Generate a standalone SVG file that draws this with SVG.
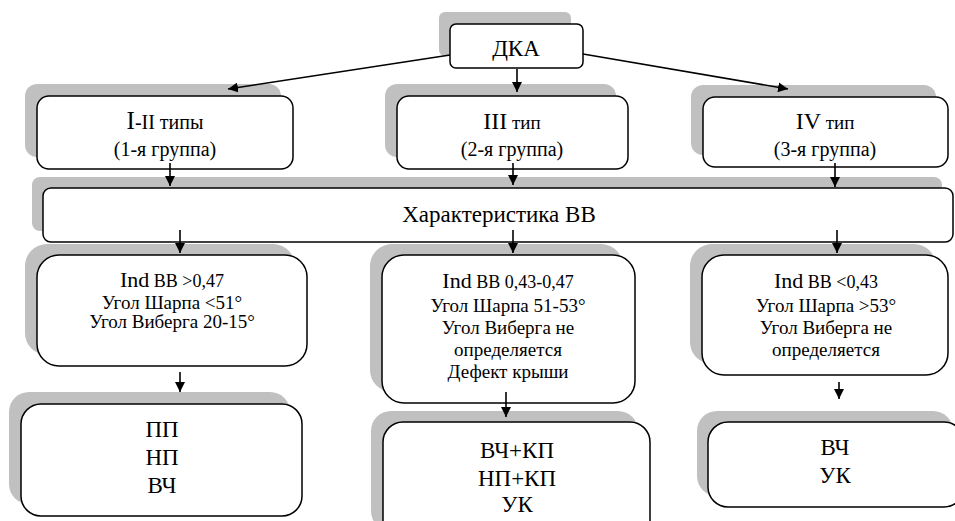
<svg xmlns="http://www.w3.org/2000/svg" width="955" height="521" viewBox="0 0 955 521">
<defs>
<marker id="ah" viewBox="0 0 10 10" refX="10" refY="5" markerWidth="10" markerHeight="10" markerUnits="userSpaceOnUse" orient="auto">
<path d="M0,0 L10,5 L0,10 z" fill="#000"/>
</marker>
</defs>
<style>
.sh{fill:#c0c0c0;stroke:none}
.bx{fill:#fff;stroke:#000;stroke-width:1.5}
.c{stroke:#000;stroke-width:1.6;fill:none;marker-end:url(#ah)}
</style>
<rect width="955" height="521" fill="#fff"/>

<g id="dka">
<rect class="sh" x="439" y="12" width="132" height="44" rx="6"/>
<rect class="bx" x="450" y="24" width="133" height="44" rx="6"/>
<text x="516" y="56" font-family="Liberation Serif" font-size="23" text-anchor="middle">ДКА</text>
</g>

<g id="type12">
<rect class="sh" x="25" y="84" width="256" height="73" rx="12"/>
<rect class="bx" x="37" y="96" width="256" height="73" rx="12"/>
<text x="165" y="129" font-family="Liberation Serif" font-size="20" text-anchor="middle"><tspan font-size="25">I</tspan>-II типы</text>
<text x="165" y="156" font-family="Liberation Serif" font-size="20" text-anchor="middle">(1-я группа)</text>
</g>

<g id="type3">
<rect class="sh" x="385" y="84" width="231" height="73" rx="12"/>
<rect class="bx" x="397" y="96" width="231" height="73" rx="12"/>
<text x="512" y="129" font-family="Liberation Serif" font-size="19" text-anchor="middle"><tspan font-size="24">III</tspan> тип</text>
<text x="512" y="156" font-family="Liberation Serif" font-size="20" text-anchor="middle">(2-я группа)</text>
</g>

<g id="type4">
<rect class="sh" x="691" y="85" width="245" height="70" rx="12"/>
<rect class="bx" x="703" y="97" width="245" height="70" rx="12"/>
<text x="825" y="129" font-family="Liberation Serif" font-size="19" text-anchor="middle"><tspan font-size="24">IV</tspan> тип</text>
<text x="825" y="156" font-family="Liberation Serif" font-size="20" text-anchor="middle">(3-я группа)</text>
</g>

<g id="char">
<rect class="sh" x="32" y="177" width="910" height="54" rx="8"/>
<rect class="bx" x="43" y="188" width="910" height="54" rx="8"/>
<text x="499" y="222" font-family="Liberation Serif" font-size="23" text-anchor="middle">Характеристика ВВ</text>
</g>

<g id="crit1">
<rect class="sh" x="25" y="244" width="270" height="111" rx="22"/>
<rect class="bx" x="37" y="255" width="270" height="111" rx="22"/>
<text x="172" y="287" font-family="Liberation Serif" font-size="18" text-anchor="middle"><tspan font-size="22">Ind</tspan> ВВ &gt;0,47</text>
<text x="172" y="309" font-family="Liberation Serif" font-size="19" text-anchor="middle">Угол Шарпа &lt;51°</text>
<text x="172" y="328" font-family="Liberation Serif" font-size="19" text-anchor="middle">Угол Виберга 20-15°</text>
</g>

<g id="crit2">
<rect class="sh" x="370" y="244" width="253" height="148" rx="22"/>
<rect class="bx" x="382" y="255" width="253" height="148" rx="22"/>
<text x="508" y="288" font-family="Liberation Serif" font-size="18" text-anchor="middle"><tspan font-size="22">Ind</tspan> ВВ 0,43-0,47</text>
<text x="508" y="312" font-family="Liberation Serif" font-size="19" text-anchor="middle">Угол Шарпа 51-53°</text>
<text x="508" y="334" font-family="Liberation Serif" font-size="19" text-anchor="middle">Угол Виберга не</text>
<text x="508" y="356" font-family="Liberation Serif" font-size="19" text-anchor="middle">определяется</text>
<text x="508" y="378" font-family="Liberation Serif" font-size="19" text-anchor="middle">Дефект крыши</text>
</g>

<g id="crit3">
<rect class="sh" x="690" y="244" width="246" height="120" rx="22"/>
<rect class="bx" x="702" y="255" width="246" height="120" rx="22"/>
<text x="826" y="288" font-family="Liberation Serif" font-size="18" text-anchor="middle"><tspan font-size="22">Ind</tspan> ВВ &lt;0,43</text>
<text x="826" y="312" font-family="Liberation Serif" font-size="19" text-anchor="middle">Угол Шарпа &gt;53°</text>
<text x="826" y="334" font-family="Liberation Serif" font-size="19" text-anchor="middle">Угол Виберга не</text>
<text x="826" y="356" font-family="Liberation Serif" font-size="19" text-anchor="middle">определяется</text>
</g>

<g id="res1">
<rect class="sh" x="9" y="392" width="281" height="112" rx="20"/>
<rect class="bx" x="21" y="404" width="281" height="112" rx="20"/>
<text x="162" y="437" font-family="Liberation Serif" font-size="23" text-anchor="middle">ПП</text>
<text x="162" y="465" font-family="Liberation Serif" font-size="23" text-anchor="middle">НП</text>
<text x="162" y="493" font-family="Liberation Serif" font-size="23" text-anchor="middle">ВЧ</text>
</g>

<g id="res2">
<rect class="sh" x="371" y="411" width="267" height="120" rx="20"/>
<rect class="bx" x="383" y="422" width="267" height="120" rx="20"/>
<text x="517" y="458" font-family="Liberation Serif" font-size="23" text-anchor="middle">ВЧ+КП</text>
<text x="517" y="486" font-family="Liberation Serif" font-size="23" text-anchor="middle">НП+КП</text>
<text x="517" y="512" font-family="Liberation Serif" font-size="23" text-anchor="middle">УК</text>
</g>

<g id="res3">
<rect class="sh" x="697" y="411" width="256" height="85" rx="20"/>
<rect class="bx" x="708" y="422" width="256" height="85" rx="20"/>
<text x="835" y="455" font-family="Liberation Serif" font-size="23" text-anchor="middle">ВЧ</text>
<text x="835" y="483" font-family="Liberation Serif" font-size="23" text-anchor="middle">УК</text>
</g>

<g id="connectors">
<line class="c" x1="450" y1="55" x2="228" y2="89"/>
<line class="c" x1="583" y1="54" x2="788" y2="89"/>
<line class="c" x1="517" y1="69" x2="517" y2="92"/>
<line class="c" x1="170" y1="163" x2="170" y2="186"/>
<line class="c" x1="513" y1="163" x2="513" y2="185"/>
<line class="c" x1="835" y1="163" x2="835" y2="187"/>
<line class="c" x1="180" y1="230" x2="180" y2="253"/>
<line class="c" x1="513" y1="230" x2="513" y2="253"/>
<line class="c" x1="837" y1="230" x2="837" y2="253"/>
<line class="c" x1="180" y1="372" x2="180" y2="392"/>
<line class="c" x1="506" y1="392" x2="506" y2="417"/>
<line class="c" x1="839" y1="382" x2="839" y2="399"/>
</g>
</svg>
